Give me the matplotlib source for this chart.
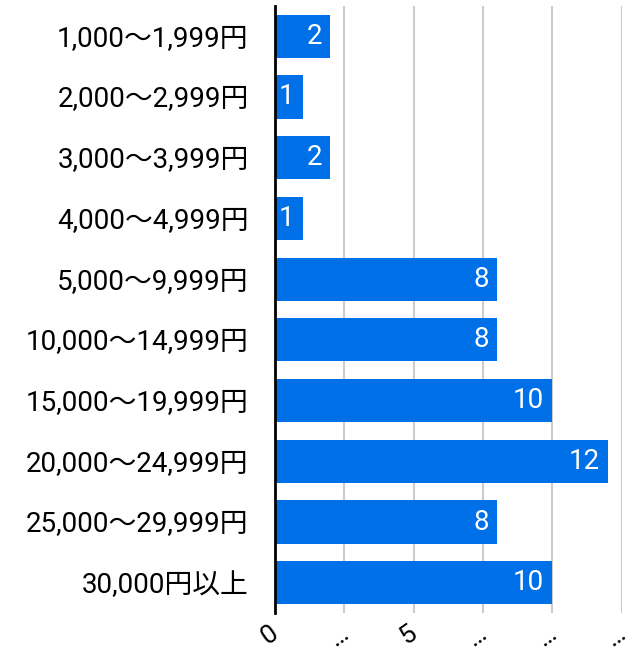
import numpy as np
import matplotlib.pyplot as plt
import matplotlib.transforms as mtransforms

plt.rcParams['font.family'] = ['Roboto', 'Noto Sans CJK JP', 'DejaVu Sans']

# price bands and counts
categories = ['1,000～1,999円', '2,000～2,999円', '3,000～3,999円', '4,000～4,999円',
              '5,000～9,999円', '10,000～14,999円', '15,000～19,999円',
              '20,000～24,999円', '25,000～29,999円', '30,000円以上']
counts = [2, 1, 2, 1, 8, 8, 10, 12, 8, 10]
xticks = [0, 2.5, 5, 7.5, 10, 12.5]
xtick_labels = ['0', '…', '5', '…', '…', '…']

BAR = '#0070e8'

fig = plt.figure(figsize=(6.32, 6.55), dpi=100)
ax = fig.add_axes([0.435, 0.064, 0.549, 0.927])

y = np.arange(len(categories))
ax.barh(y, counts, height=0.71, color=BAR, zorder=2)
for yi, c in zip(y, counts):
    ax.text(c - 0.3, yi, str(c), color='white', ha='right', va='center',
            fontsize=20, zorder=3)

ax.set_ylim(len(categories) - 0.5, -0.5)
ax.set_xlim(0, 12.5)
ax.set_yticks(y)
ax.set_yticklabels(categories, fontsize=20)
ax.set_xticks(xticks)
ax.set_xticklabels(xtick_labels, fontsize=19, rotation=35, ha='right',
                   va='top', rotation_mode='anchor')

ax.grid(axis='x', color='#cccccc', linewidth=1.5, zorder=0)
ax.tick_params(axis='y', length=0, pad=19)
ax.tick_params(axis='x', length=0, pad=3)
for s in ['top', 'right', 'bottom']:
    ax.spines[s].set_visible(False)
ax.spines['left'].set_linewidth(2)
ax.spines['left'].set_zorder(4)

# nudge the rotated tick labels a little left and down (after tick_params)
shift = mtransforms.ScaledTranslation(-6 / 100, -4 / 100, fig.dpi_scale_trans)
for lbl in ax.get_xticklabels():
    lbl.set_transform(lbl.get_transform() + shift)

fig.savefig('out.png', dpi=100)
